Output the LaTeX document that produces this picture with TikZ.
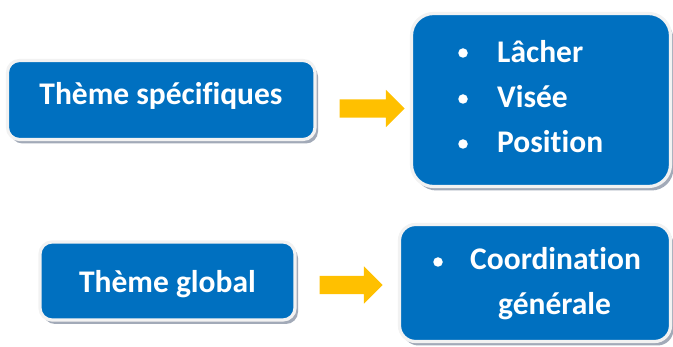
\documentclass[tikz,border=0pt]{standalone}
\usepackage{fontspec}
\setmainfont[Ligatures={NoCommon}]{Carlito}
\usetikzlibrary{shapes.arrows,shadows}
\definecolor{boxblue}{HTML}{0070C0}
\definecolor{arrowgold}{HTML}{FFC000}
\definecolor{shadowgray}{HTML}{A2AAB8}
\definecolor{rimwhite}{HTML}{F2F2F2}
\tikzset{
  card/.style={draw=rimwhite, line width=3.2pt, fill=boxblue, rounded corners=#1,
    general shadow={shadow xshift=3pt, shadow yshift=-4pt, fill=shadowgray}},
  label/.style={text=white, font=\fontsize{31.5}{37}\selectfont\bfseries, inner sep=0pt},
  dotmark/.style={circle, fill=white, minimum size=9.5pt, inner sep=0pt},
  goldarrow/.style={single arrow, fill=arrowgold, draw=none, inner sep=0pt, inner ysep=9pt,
    single arrow head extend=9.5pt, minimum height=#1, shape border rotate=0}
}
\begin{document}
\begin{tikzpicture}[x=1pt,y=-1pt]
\useasboundingbox (0,0) rectangle (673,347);
% boxes
\path[card=12pt] (7.5,60.5) rectangle (315,139.5);
\path[card=22pt] (411.5,13.5) rectangle (670.5,186.5);
\path[card=12pt] (40,242) rectangle (295,320);
\path[card=16pt] (399.5,224.5) rectangle (670.5,341.5);
% texts
\node[label, anchor=base] (t1) at (161,105) {Thème spécifiques};
\node[label, anchor=base] (t3) at (167.5,293) {Thème global};
\node[dotmark] (b1) at (463,53) {};
\node[dotmark] (b2) at (463,99) {};
\node[dotmark] (b3) at (463,144) {};
\node[label, anchor=base west] (l1) at (497,63) {Lâcher};
\node[label, anchor=base west] (l2) at (497,108) {Visée};
\node[label, anchor=base west] (l3) at (497,153) {Position};
\node[dotmark] (b4) at (438,262) {};
\node[label, anchor=base west] (c1) at (470,270) {Coordination};
\node[label, anchor=base west] (c2) at (498,315) {générale};
% arrows
\node[goldarrow=65pt] (a1) at (367.5,108.5) {};
\node[goldarrow=63pt] (a2) at (346.5,285) {};
\end{tikzpicture}
\end{document}
